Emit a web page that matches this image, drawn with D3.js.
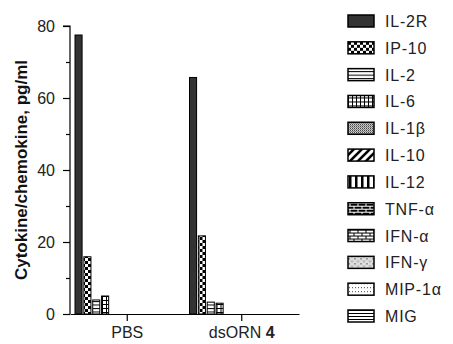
<!DOCTYPE html>
<html>
<head>
<meta charset="UTF-8">
<style>
  body { margin: 0; background: #fff; font-family: Arial, "Liberation Sans", sans-serif; }
  svg { display: block; }
</style>
</head>
<body>
<svg id="chart" width="453" height="344"></svg>
<script src="https://d3js.org/d3.v7.min.js"></script>
<script>
// data
const groups = ["PBS", "dsORN"];
const series = ["IL-2R", "IP-10", "IL-2", "IL-6", "IL-1β", "IL-10", "IL-12",
                "TNF-α", "IFN-α", "IFN-γ", "MIP-1α", "MIG"];
const pbsValues   = [77.5, 15.9, 3.9, 5.0, 0, 0, 0, 0, 0, 0, 0, 0];
const dsornValues = [65.7, 21.7, 3.3, 3.0, 0, 0, 0, 0, 0, 0, 0, 0];
const yTicks = [0, 20, 40, 60, 80];
const yMinorTicks = [10, 30, 50, 70];

const values = { PBS: pbsValues, dsORN: dsornValues };

const svg = d3.select("#chart");
const m = { left: 70, top: 26, right: 299, bottom: 314 };

const x = d3.scaleBand().domain(groups).range([m.left, m.right]);
const xs = d3.scaleBand().domain(series).range([5, x.bandwidth() - 5]).paddingInner(0.2);
const y = d3.scaleLinear().domain([0, 80]).range([m.bottom, m.top]);

// fill patterns, one per series
const defs = svg.append("defs");
function pat(id, w, h, bg, draw) {
  const p = defs.append("pattern").attr("id", id)
    .attr("patternUnits", "userSpaceOnUse").attr("width", w).attr("height", h);
  p.append("rect").attr("width", w).attr("height", h).attr("fill", bg);
  draw(p);
}
pat("p0", 4, 4, "#333", () => {});
pat("p1", 6, 6, "#fff", p => {
  p.append("rect").attr("width", 3).attr("height", 3).attr("fill", "#000");
  p.append("rect").attr("x", 3).attr("y", 3).attr("width", 3).attr("height", 3).attr("fill", "#000");
});
pat("p2", 4, 3.5, "#fff", p => {
  p.append("rect").attr("y", 0).attr("width", 4).attr("height", 1).attr("fill", "#000");
});
pat("p3", 4, 4, "#fff", p => {
  p.append("rect").attr("width", 4).attr("height", 1).attr("fill", "#000");
  p.append("rect").attr("width", 1).attr("height", 4).attr("fill", "#000");
});
pat("p4", 2, 2, "#fff", p => {
  p.append("rect").attr("width", 1).attr("height", 1).attr("fill", "#000");
  p.append("rect").attr("x", 1).attr("y", 1).attr("width", 1).attr("height", 1).attr("fill", "#555");
});
pat("p5", 8, 8, "#fff", p => {
  p.append("path").attr("d", "M-2,10 L10,-2 M-2,2 L2,-2 M6,10 L10,6")
    .attr("stroke", "#000").attr("stroke-width", 2.6);
});
pat("p6", 6, 4, "#fff", p => {
  p.append("rect").attr("x", 1).attr("width", 2.5).attr("height", 4).attr("fill", "#000");
});
pat("p7", 8, 6, "#000", p => {
  p.append("path").attr("d", "M0,0.5 H8 M0,3.5 H8 M2,0 V3 M6,3 V6")
    .attr("stroke", "#fff").attr("stroke-width", 1);
});
pat("p8", 8, 6, "#fff", p => {
  p.append("path").attr("d", "M0,0.5 H8 M0,3.5 H8 M2,0 V3 M6,3 V6")
    .attr("stroke", "#000").attr("stroke-width", 1);
});
pat("p9", 6, 5, "#ddd", p => {
  p.append("path").attr("d", "M0,1 l1,1 l1,-1 M3,3.5 l1,1 l1,-1")
    .attr("stroke", "#555").attr("stroke-width", 0.8).attr("fill", "none");
});
pat("p10", 3, 4, "#fff", p => {
  p.append("rect").attr("x", 1).attr("y", 2).attr("width", 1).attr("height", 1).attr("fill", "#444");
});
pat("p11", 4, 3, "#fff", p => {
  p.append("rect").attr("width", 4).attr("height", 1).attr("fill", "#000");
});

// bars
const g = svg.append("g");
groups.forEach(grp => {
  g.append("g").attr("transform", `translate(${x(grp)},0)`)
    .selectAll("rect")
    .data(series.map((s, i) => ({ s, i, v: values[grp][i] })).filter(d => d.v > 0))
    .enter().append("rect")
    .attr("x", d => xs(d.s))
    .attr("y", d => y(d.v))
    .attr("width", xs.bandwidth())
    .attr("height", d => y(0) - y(d.v))
    .attr("fill", d => `url(#p${d.i})`)
    .attr("stroke", "#000")
    .attr("stroke-width", 1);
});

// y axis
const yAxis = svg.append("g").attr("transform", `translate(${m.left},0)`)
  .call(d3.axisLeft(y).tickValues(yTicks).tickSize(7).tickPadding(8));
svg.append("g").attr("transform", `translate(${m.left},0)`)
  .call(d3.axisLeft(y).tickValues(yMinorTicks).tickSize(4).tickFormat(""))
  .select(".domain").remove();
yAxis.select(".domain").attr("d", `M-7,${m.top}H0V${m.bottom}`);

// x axis
const xAxis = svg.append("g").attr("transform", `translate(0,${m.bottom})`)
  .call(d3.axisBottom(x).tickSize(7).tickSizeOuter(0).tickPadding(4).tickFormat(""));

svg.selectAll(".domain, .tick line").attr("stroke", "#000").attr("stroke-width", 1.2);
svg.selectAll(".tick text").attr("font-size", 16).attr("fill", "#222")
  .attr("font-family", "Arial, 'Liberation Sans', sans-serif");

// x labels
const xl = svg.append("g").attr("font-size", 16).attr("fill", "#222");
xl.append("text").attr("x", x("PBS") + x.bandwidth() / 2).attr("y", 338)
  .attr("text-anchor", "middle").text("PBS");
const t2 = xl.append("text").attr("x", x("dsORN") + x.bandwidth() / 2).attr("y", 338)
  .attr("text-anchor", "middle");
t2.append("tspan").text("dsORN ");
t2.append("tspan").attr("font-weight", "bold").text("4");

// y title
svg.append("text")
  .attr("transform", `translate(27,${(m.top + m.bottom) / 2}) rotate(-90)`)
  .attr("text-anchor", "middle")
  .attr("font-size", 17).attr("font-weight", "bold").attr("fill", "#111")
  .text("Cytokine/chemokine, pg/ml");

// legend
const leg = svg.append("g");
const ly = d3.scalePoint().domain(series).range([21, 316]);
const items = leg.selectAll("g").data(series).enter().append("g")
  .attr("transform", d => `translate(348,${ly(d)})`);
items.append("rect")
  .attr("x", 0).attr("y", -6).attr("width", 26).attr("height", 12)
  .attr("fill", (d, i) => `url(#p${i})`)
  .attr("stroke", "#000").attr("stroke-width", 1.5);
items.append("text")
  .attr("x", 37).attr("y", 6)
  .attr("font-size", 16).attr("fill", "#222").attr("letter-spacing", 0.8)
  .text(d => d);
</script>
</body>
</html>
